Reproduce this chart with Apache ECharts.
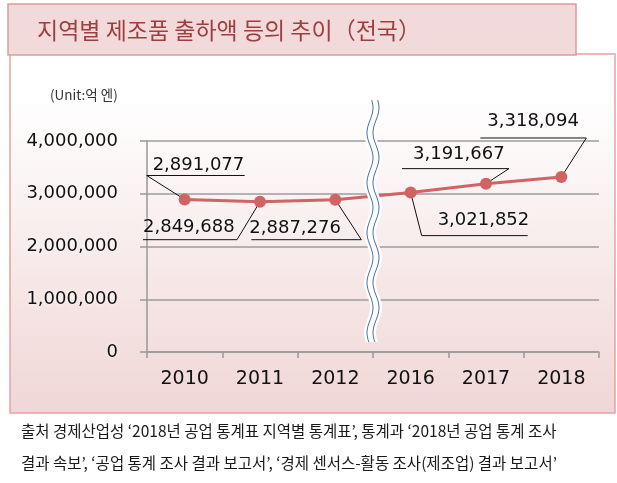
<!DOCTYPE html>
<html>
<head>
<meta charset="utf-8">
<script src="https://cdn.jsdelivr.net/npm/echarts@6/dist/echarts.min.js"></script>
<style>
  html, body { margin: 0; padding: 0; background: #fff; }
  #chart { width: 617px; height: 483px; }
</style>
</head>
<body>
<div id="chart"></div>
<script>
(function () {
    // 데이터
    var years = ['2010', '2011', '2012', '2016', '2017', '2018'];
    var shipments = [2891077, 2849688, 2887276, 3021852, 3191667, 3318094];
    var yTicks = [0, 1000000, 2000000, 3000000, 4000000];
    var breakAfter = 2; // 2012 뒤에 축 생략 표시

    var titleText = '지역별 제조품 출하액 등의 추이（전국）';
    var unitText = '(Unit:억 엔)';
    var sourceLines = [
        '출처 경제산업성 ‘2018년 공업 통계표 지역별 통계표’, 통계과 ‘2018년 공업 통계 조사',
        '결과 속보’, ‘공업 통계 조사 결과 보고서’, ‘경제 센서스-활동 조사(제조업) 결과 보고서’'
    ];

    // 말풍선(지시선 + 밑줄) 위치: 각 점 기준 픽셀 오프셋
    var callouts = [
        { line: [[0, 0], [-38, -24], [60, -24]], text: [-32, -34] },
        { line: [[0, 0], [-23, 38], [-117, 38]], text: [-117, 26] },
        { line: [[0, 0], [26, 40], [-84, 40]], text: [-86, 29] },
        { line: [[0, 0], [11, 43], [117, 43]], text: [27, 28] },
        { line: [[0, 0], [23, -15], [-84, -15]], text: [-73, -29] },
        { line: [[0, 0], [25, -39], [-81, -39]], text: [-74, -56] }
    ];

    function fmt(v) { return Number(v).toLocaleString('en-US'); }

    var numFont = '"DejaVu Sans", Verdana, sans-serif';
    var krFont = '"Noto Sans CJK KR", sans-serif';

    var myChart = echarts.init(document.getElementById('chart'));

    var option = {
        animation: false,
        graphic: [
            // 바깥 테두리
            {
                type: 'rect', z: -10,
                shape: { x: 10, y: 54, width: 605, height: 359 },
                style: {
                    fill: {
                        type: 'linear', x: 0, y: 0, x2: 0, y2: 1,
                        colorStops: [
                            { offset: 0, color: '#ffffff' },
                            { offset: 0.12, color: '#ffffff' },
                            { offset: 1, color: '#f0d6d6' }
                        ]
                    },
                    stroke: '#e6a2a2', lineWidth: 1.5
                }
            },
            // 제목 상자
            {
                type: 'rect', z: 100,
                shape: { x: 8, y: 4, width: 568, height: 51 },
                style: { fill: '#f2dada', stroke: '#dd9c9c', lineWidth: 1.5 }
            },
            {
                type: 'text', z: 101, x: 37, y: 30,
                style: { text: titleText, font: '23px ' + krFont, fill: '#9e3e3e', textVerticalAlign: 'middle', verticalAlign: 'middle' }
            },
            {
                type: 'text', z: 101, x: 50, y: 95,
                style: { text: unitText, font: '13.5px ' + krFont, fill: '#333', textVerticalAlign: 'middle', verticalAlign: 'middle' }
            },
            {
                type: 'text', z: 101, x: 21, y: 431,
                style: { text: sourceLines[0], font: '15.5px ' + krFont, fill: '#1a1a1a', textVerticalAlign: 'middle', verticalAlign: 'middle' }
            },
            {
                type: 'text', z: 101, x: 21, y: 463,
                style: { text: sourceLines[1], font: '15.5px ' + krFont, fill: '#1a1a1a', textVerticalAlign: 'middle', verticalAlign: 'middle' }
            }
        ],

        grid: { left: 147, right: 18, top: 141, bottom: 131 },

        xAxis: {
            type: 'category',
            data: years,
            boundaryGap: true,
            axisLine: { lineStyle: { color: '#999', width: 1.5 } },
            axisTick: { show: true, length: 6, lineStyle: { color: '#999', width: 1.5 } },
            axisLabel: {
                margin: 18,
                fontFamily: numFont,
                fontSize: 19,
                color: '#111'
            },
            splitLine: { show: false }
        },

        yAxis: {
            type: 'value',
            min: yTicks[0],
            max: yTicks[yTicks.length - 1],
            interval: yTicks[1] - yTicks[0],
            axisLine: { show: true, lineStyle: { color: '#999', width: 1.5 } },
            axisTick: { show: true, length: 7, lineStyle: { color: '#999', width: 1.5 } },
            splitLine: { lineStyle: { color: '#9c9c9c', width: 1.5 } },
            axisLabel: {
                margin: 29,
                formatter: fmt,
                fontFamily: numFont,
                fontSize: 18,
                color: '#111',
                textShadowColor: '#fff',
                textShadowBlur: 4
            }
        },

        series: [
            {
                type: 'line',
                data: shipments,
                z: 3,
                symbol: 'circle',
                symbolSize: 12,
                lineStyle: { color: '#d06464', width: 3 },
                itemStyle: { color: '#d06464' }
            },
            // 데이터 레이블 + 지시선
            {
                type: 'custom',
                z: 2,
                clip: false,
                data: shipments.map(function (v, i) { return [i, v]; }),
                encode: { x: 0, y: 1 },
                renderItem: function (params, api) {
                    var p = api.coord([api.value(0), api.value(1)]);
                    var c = callouts[params.dataIndex];
                    return {
                        type: 'group',
                        children: [
                            {
                                type: 'polyline',
                                shape: { points: c.line.map(function (q) { return [p[0] + q[0], p[1] + q[1]]; }) },
                                style: { stroke: '#111', lineWidth: 1, fill: 'none' }
                            },
                            {
                                type: 'text',
                                x: p[0] + c.text[0],
                                y: p[1] + c.text[1],
                                style: {
                                    text: fmt(api.value(1)),
                                    font: '18px ' + numFont,
                                    fill: '#111',
                                    textAlign: 'left', align: 'left',
                                    textVerticalAlign: 'middle', verticalAlign: 'middle',
                                    textShadowColor: '#fff', textShadowBlur: 4
                                }
                            }
                        ]
                    };
                }
            },
            // 축 생략 물결 표시
            {
                type: 'custom',
                z: 5,
                clip: false,
                silent: true,
                data: [[breakAfter, 0]],
                encode: { x: 0, y: 1 },
                renderItem: function (params, api) {
                    var a = api.coord([breakAfter, yTicks[yTicks.length - 1]]);
                    var b = api.coord([breakAfter + 1, yTicks[0]]);
                    var xc = (a[0] + b[0]) / 2;
                    var top = a[1] - 41, bottom = b[1] - 9;
                    function wave(dx) {
                        var pts = [];
                        for (var y = top; y <= bottom; y += 2) {
                            pts.push([xc + dx + 3 * Math.sin((y - top) / 50 * 2 * Math.PI + 0.6), y]);
                        }
                        return pts;
                    }
                    var fillPts = wave(-6).concat(wave(6).reverse());
                    return {
                        type: 'group',
                        children: [
                            { type: 'polygon', shape: { points: fillPts }, style: { fill: '#fff', stroke: 'none' } },
                            { type: 'polyline', shape: { points: wave(-3) }, style: { stroke: '#4a72b0', lineWidth: 1, fill: 'none' } },
                            { type: 'polyline', shape: { points: wave(3) }, style: { stroke: '#4a72b0', lineWidth: 1, fill: 'none' } }
                        ]
                    };
                }
            }
        ]
    };

    myChart.setOption(option);
})();
</script>
</body>
</html>
